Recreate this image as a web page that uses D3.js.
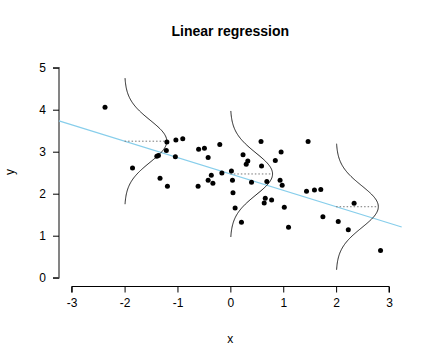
<!DOCTYPE html>
<html>
<head>
<meta charset="utf-8">
<script src="https://cdn.jsdelivr.net/npm/d3@7"></script>
<style>
  html, body { margin: 0; padding: 0; background: #fff; }
  svg text { font-family: "Liberation Sans", Arial, Helvetica, sans-serif; fill: #000; }
</style>
</head>
<body>
<svg id="chart" width="432" height="360"></svg>
<script>
// ---- data ----
const pointX = [-2.37, -1.85, -1.39, -1.36, -1.20, -1.21, -1.03, -0.90, -1.04, -1.33,
                -1.19, -0.60, -0.49, -0.42, -0.20, -0.61, -0.36, -0.42, -0.33, -0.16,
                 0.02,  0.04,  0.05,  0.09,  0.21,  0.24,  0.33,  0.30,  0.58,  0.59,
                 0.85,  0.96,  0.40,  0.69,  0.94,  0.98,  0.66,  0.78,  0.64,  1.02,
                 1.10,  1.47,  1.44,  1.59,  1.71,  2.34,  1.75,  2.04,  2.23,  2.84];
const pointY = [ 4.06,  2.61,  2.89,  2.91,  3.23,  3.03,  3.28,  3.31,  2.88,  2.37,
                 2.18,  3.06,  3.08,  2.86,  3.17,  2.18,  2.44,  2.32,  2.25,  2.49,
                 2.54,  2.32,  2.02,  1.66,  1.32,  2.93,  2.78,  2.70,  3.24,  2.66,
                 2.79,  2.99,  2.27,  2.29,  2.32,  2.20,  1.89,  1.85,  1.78,  1.68,
                 1.20,  3.24,  2.06,  2.09,  2.10,  1.77,  1.45,  1.34,  1.14,  0.65];
const lineIntercept = 2.47;
const lineSlope = -0.39;
const curveCenters = [-2, 0, 2];
const residualSD = 0.5;
const xTicks = [-3, -2, -1, 0, 1, 2, 3];
const yTicks = [0, 1, 2, 3, 4, 5];
const titleText = "Linear regression";
const xLabel = "x";
const yLabel = "y";

// ---- scales ----
const svg = d3.select("#chart");
const x = d3.scaleLinear().domain([-3.24, 3.24]).range([59, 401.7]);
const y = d3.scaleLinear().domain([-0.2, 5.2]).range([286.1, 59.3]);

// ---- axes ----
const xAxis = d3.axisBottom(x).tickValues(xTicks).tickSize(6).tickPadding(6)
  .tickFormat(d => String(d));
const gx = svg.append("g").attr("transform", "translate(0,286.5)").call(xAxis);
gx.select(".domain").attr("d", `M${x(-3)},6V0H${x(3)}V6`).attr("stroke", "#000");
gx.selectAll("text").attr("font-size", 12).attr("font-family", "Liberation Sans, Arial, sans-serif");

const yAxis = d3.axisLeft(y).tickValues(yTicks).tickSize(6).tickPadding(7)
  .tickFormat(d => String(d));
const gy = svg.append("g").attr("transform", "translate(59,0)").call(yAxis);
gy.select(".domain").attr("d", `M-6,${y(5)}H0V${y(0)}H-6`).attr("stroke", "#666").attr("stroke-width", 1.6);
gy.selectAll("text").attr("font-size", 12).attr("font-family", "Liberation Sans, Arial, sans-serif");

// ---- title / labels ----
svg.append("text").attr("x", 230.3).attr("y", 36).attr("text-anchor", "middle")
  .attr("font-size", 14).attr("font-weight", "bold").text(titleText);
svg.append("text").attr("x", 230.3).attr("y", 343).attr("text-anchor", "middle")
  .attr("font-size", 12).text(xLabel);
svg.append("text").attr("transform", "translate(14,172) rotate(-90)").attr("text-anchor", "middle")
  .attr("font-size", 12).text(yLabel);

// ---- regression line ----
const xd = x.domain();
svg.append("line")
  .attr("x1", x(xd[0])).attr("y1", y(lineIntercept + lineSlope * xd[0]))
  .attr("x2", x(xd[1])).attr("y2", y(lineIntercept + lineSlope * xd[1]))
  .attr("stroke", "#87CEEB").attr("stroke-width", 1.2);

// ---- normal density curves ----
const dnorm = (v, m, s) => Math.exp(-0.5 * ((v - m) / s) ** 2) / (s * Math.sqrt(2 * Math.PI));
curveCenters.forEach(cx => {
  const mu = lineIntercept + lineSlope * cx;
  const ys = d3.range(-3 * residualSD, 3 * residualSD + 1e-9, 0.02).map(o => mu + o);
  const line = d3.line().x(v => x(cx + dnorm(v, mu, residualSD))).y(v => y(v)).curve(d3.curveLinear);
  svg.append("path").attr("d", line(ys)).attr("fill", "none")
    .attr("stroke", "#222").attr("stroke-width", 1);
  svg.append("line")
    .attr("x1", x(cx)).attr("y1", y(mu))
    .attr("x2", x(cx + dnorm(mu, mu, residualSD))).attr("y2", y(mu))
    .attr("stroke", "#777").attr("stroke-width", 1).attr("stroke-dasharray", "1.5,2");
});

// ---- points ----
svg.append("g").selectAll("circle").data(d3.range(pointX.length)).join("circle")
  .attr("cx", i => x(pointX[i])).attr("cy", i => y(pointY[i]))
  .attr("r", 2.5).attr("fill", "#000");
</script>
</body>
</html>
